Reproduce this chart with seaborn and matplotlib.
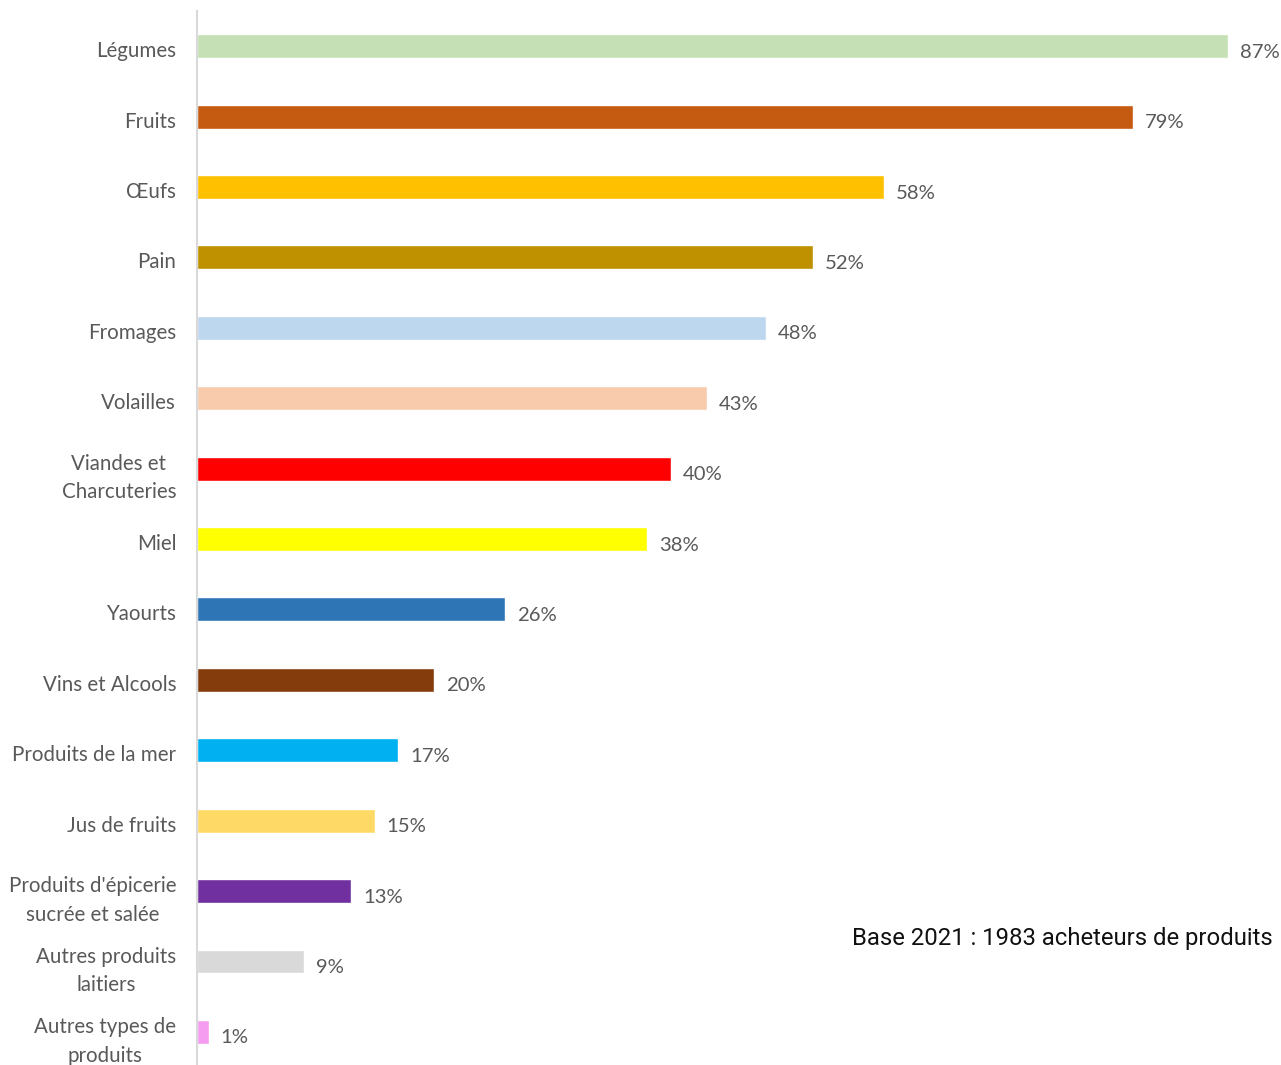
import matplotlib
matplotlib.use("Agg")
import matplotlib.pyplot as plt
import matplotlib.transforms as mtransforms
import seaborn as sns
import pandas as pd

categories = [
    "Légumes", "Fruits", "Œufs", "Pain", "Fromages", "Volailles",
    "Viandes et\nCharcuteries", "Miel", "Yaourts", "Vins et Alcools",
    "Produits de la mer", "Jus de fruits",
    "Produits d'épicerie\nsucrée et salée", "Autres produits\nlaitiers",
    "Autres types de\nproduits",
]
values = [87, 79, 58, 52, 48, 43, 40, 38, 26, 20, 17, 15, 13, 9, 1]
colors = [
    "#c5e0b4", "#c55a11", "#ffc000", "#bf9000", "#bdd7ee", "#f8cbad",
    "#ff0000", "#ffff00", "#2e75b6", "#843c0c", "#00b0f0", "#ffd966",
    "#7030a0", "#d9d9d9", "#f59cf0",
]
note = "Base 2021 : 1983 acheteurs de produits"

df = pd.DataFrame({"categorie": categories, "part": values})

sns.set_theme(style="white")
plt.rcParams["font.family"] = ["Lato", "DejaVu Sans"]

W, H, DPI = 1281, 1065, 100
fig = plt.figure(figsize=(W / DPI, H / DPI), dpi=DPI)
ax = fig.add_axes([197 / W, 0.0, 1 - 197 / W, 1 - 11 / H])

sns.barplot(
    data=df, x="part", y="categorie", hue="categorie",
    palette=colors, legend=False, width=0.34, ax=ax,
    saturation=1, orient="h",
)

ax.set_xlim(0, (W - 197) / 11.85)
ax.set_ylim(14.47, -0.5)
ax.set_xlabel("")
ax.set_ylabel("")
ax.set_xticks([])

for side in ("top", "right", "bottom"):
    ax.spines[side].set_visible(False)
ax.spines["left"].set_color("#d9d9d9")
ax.spines["left"].set_linewidth(1.5)

ax.tick_params(axis="y", length=0, pad=15, labelsize=14.8, labelcolor="#595959")
shift_down = mtransforms.ScaledTranslation(0, -3 / DPI, fig.dpi_scale_trans)
for lbl in ax.get_yticklabels():
    lbl.set_multialignment("center")
    lbl.set_linespacing(1.55)
    lbl.set_transform(lbl.get_transform() + shift_down)

for i, v in enumerate(values):
    ax.annotate(f"{v}%", xy=(v, i), xytext=(12, -6), textcoords="offset pixels",
                ha="left", va="center", fontsize=14.6, color="#595959",
                annotation_clip=False)

fig.text(852 / W, 1 - 938 / H, note, family="Roboto", fontsize=17.2,
         color="#111111", ha="left", va="center")

fig.savefig("out.png", dpi=DPI, facecolor="white")
